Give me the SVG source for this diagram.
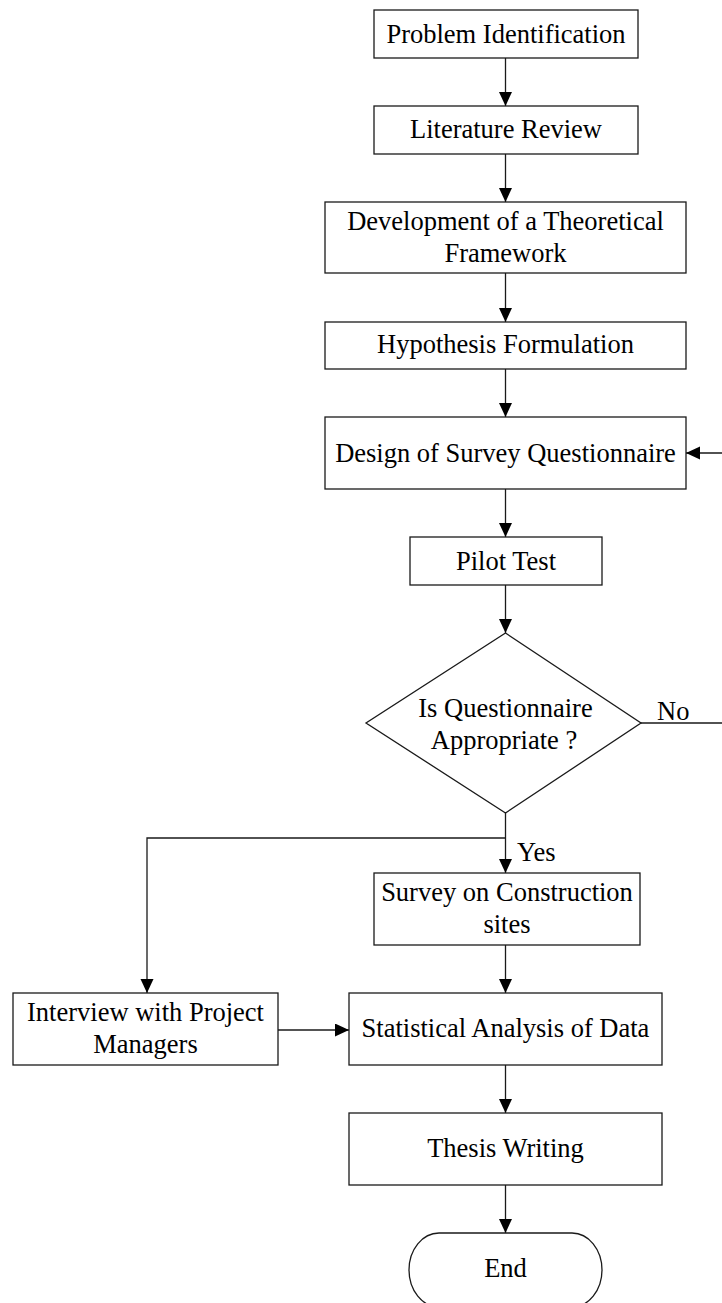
<svg xmlns="http://www.w3.org/2000/svg" width="722" height="1303" viewBox="0 0 722 1303">
  <style>
    .box { fill: #ffffff; stroke: #1a1a1a; stroke-width: 1.3; }
    .lbl { font-family: "Liberation Serif", "Times New Roman", serif; font-size: 26.5px; fill: #000000; text-anchor: middle; }
    .tag { font-family: "Liberation Serif", "Times New Roman", serif; font-size: 26.5px; fill: #000000; }
    .wire { fill: none; stroke: #1a1a1a; stroke-width: 1.3; }
  </style>
  <defs>
    <marker id="arrow" markerUnits="userSpaceOnUse" markerWidth="15" markerHeight="14" refX="14" refY="6.5" orient="auto">
      <path d="M0,0 L14,6.5 L0,13 Z" fill="#000000"/>
    </marker>
  </defs>
  <rect width="722" height="1303" fill="#ffffff"/>

  <!-- connectors -->
  <g id="connectors">
    <path class="wire" d="M505.5,58 V106" marker-end="url(#arrow)"/>
    <path class="wire" d="M505.5,154 V202" marker-end="url(#arrow)"/>
    <path class="wire" d="M505.5,273 V322" marker-end="url(#arrow)"/>
    <path class="wire" d="M505.5,369 V417" marker-end="url(#arrow)"/>
    <path class="wire" d="M505.5,489 V537" marker-end="url(#arrow)"/>
    <path class="wire" d="M505.5,585 V633" marker-end="url(#arrow)"/>
    <!-- "No" loop back to the questionnaire design -->
    <path class="wire" d="M641,723 H724 V453 H686" marker-end="url(#arrow)"/>
    <!-- "Yes" branch -->
    <path class="wire" d="M505.5,813 V873" marker-end="url(#arrow)"/>
    <path class="wire" d="M505.5,838 H147 V993" marker-end="url(#arrow)"/>
    <path class="wire" d="M505.5,945 V993" marker-end="url(#arrow)"/>
    <path class="wire" d="M278,1030 H349" marker-end="url(#arrow)"/>
    <path class="wire" d="M505.5,1065 V1113" marker-end="url(#arrow)"/>
    <path class="wire" d="M505.5,1185 V1233" marker-end="url(#arrow)"/>
    <text class="tag" x="657" y="720">No</text>
    <text class="tag" x="517" y="861">Yes</text>
  </g>

  <g id="problem-identification">
    <rect class="box" x="374" y="10" width="264" height="48"/>
    <text class="lbl" x="506" y="43">Problem Identification</text>
  </g>

  <g id="literature-review">
    <rect class="box" x="374" y="106" width="264" height="48"/>
    <text class="lbl" x="506" y="138">Literature Review</text>
  </g>

  <g id="theoretical-framework">
    <rect class="box" x="325" y="202" width="361" height="71"/>
    <text class="lbl" x="505.5" y="230">Development of a Theoretical</text>
    <text class="lbl" x="505.5" y="262">Framework</text>
  </g>

  <g id="hypothesis-formulation">
    <rect class="box" x="325" y="322" width="361" height="47"/>
    <text class="lbl" x="505.5" y="353">Hypothesis Formulation</text>
  </g>

  <g id="questionnaire-design">
    <rect class="box" x="325" y="417" width="361" height="72"/>
    <text class="lbl" x="505.5" y="462">Design of Survey Questionnaire</text>
  </g>

  <g id="pilot-test">
    <rect class="box" x="410" y="537" width="192" height="48"/>
    <text class="lbl" x="506" y="570">Pilot Test</text>
  </g>

  <g id="questionnaire-check">
    <polygon class="box" points="505.5,633 641,723 505.5,813 366,723"/>
    <text class="lbl" x="505.5" y="717">Is Questionnaire</text>
    <text class="lbl" x="504" y="749">Appropriate ?</text>
  </g>

  <g id="site-survey">
    <rect class="box" x="374" y="873" width="266" height="72"/>
    <text class="lbl" x="507" y="901">Survey on Construction</text>
    <text class="lbl" x="507" y="933">sites</text>
  </g>

  <g id="manager-interview">
    <rect class="box" x="13" y="993" width="265" height="72"/>
    <text class="lbl" x="145.5" y="1021">Interview with Project</text>
    <text class="lbl" x="145.5" y="1053">Managers</text>
  </g>

  <g id="statistical-analysis">
    <rect class="box" x="349" y="993" width="313" height="72"/>
    <text class="lbl" x="505.5" y="1037">Statistical Analysis of Data</text>
  </g>

  <g id="thesis-writing">
    <rect class="box" x="349" y="1113" width="313" height="72"/>
    <text class="lbl" x="505.5" y="1157">Thesis Writing</text>
  </g>

  <g id="end">
    <rect class="box" x="409" y="1233" width="193" height="74" rx="30" ry="37"/>
    <text class="lbl" x="505.5" y="1277">End</text>
  </g>
</svg>
